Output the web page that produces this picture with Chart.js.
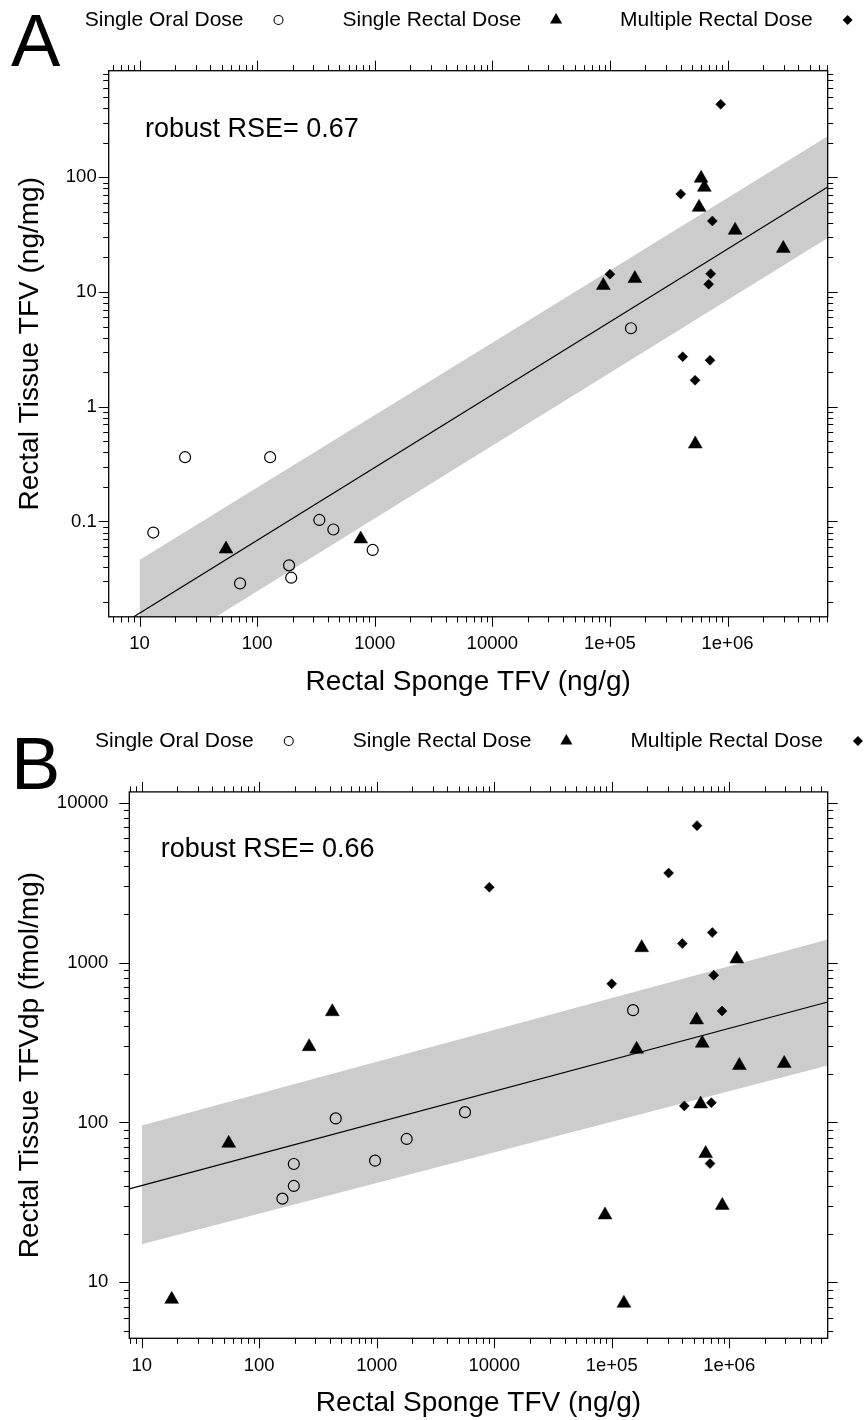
<!DOCTYPE html>
<html>
<head>
<meta charset="utf-8">
<script src="https://cdn.jsdelivr.net/npm/chart.js@4.4.0/dist/chart.umd.min.js"></script>
<style>
  body { margin: 0; background: #fff; }
  #wrap { position: relative; width: 864px; height: 1420px; background: #fff; }
  canvas { position: absolute; left: 0; }
</style>
</head>
<body>
<div id="wrap">
  <canvas id="chartA" width="864" height="710" style="top:0"></canvas>
  <canvas id="chartB" width="864" height="710" style="top:710px"></canvas>
</div>
<script>
// ---- Panel A: rectal tissue TFV (ng/mg) vs rectal sponge TFV (ng/g) ----
const oralSpongeA = [13.1, 24.4, 71.6, 129, 187, 195, 338, 445, 961, 151000];
const oralTissueA = [0.080, 0.363, 0.0288, 0.363, 0.0414, 0.0323, 0.103, 0.085, 0.0564, 4.83];

const rectalSpongeA = [54.4, 760, 87900, 163000, 596000, 635000, 573000, 1160000, 2980000, 532000];
const rectalTissueA = [0.0574, 0.0703, 11.4, 13.1, 98, 81.8, 54.7, 34.5, 24.0, 0.473];

const multiSpongeA = [875000, 400000, 743000, 100000, 719000, 692000, 416000, 710000, 530000];
const multiTissueA = [433, 71.5, 41.6, 14.3, 14.4, 11.7, 2.73, 2.54, 1.70];

// fitted line and band, read at the panel edges
const fitXA = [5.47, 7.11e6];
const fitYA = [0.0108, 82.2];
const bandXA = [10, 7.11e6];
const bandUpperA = [0.046, 228];
const bandLowerA = [0.0057, 29.6];

// ---- Panel B: rectal tissue TFVdp (fmol/mg) vs rectal sponge TFV (ng/g) ----
const oralSpongeB = [448, 5640, 1799, 968, 197, 197, 157.5, 152000];
const oralTissueB = [106, 116, 78.9, 57.7, 55, 40.1, 33.4, 504];

const rectalSpongeB = [55, 266, 419, 18, 180000, 1160000, 528000, 590000, 163000, 1220000, 2940000, 571000, 630000, 873000, 87700, 127000];
const rectalTissueB = [74.1, 298, 493, 7.83, 1239, 1053, 438, 313, 287, 227, 234, 130.6, 63.9, 30.3, 26.4, 7.4];

const multiSpongeB = [9080, 532000, 305000, 718000, 399000, 100000, 738000, 869000, 415000, 705000, 687000];
const multiTissueB = [2958, 7180, 3630, 1542, 1315, 736, 834, 498, 127, 133, 55.3];

const fitXB = [7.84, 6.89e6];
const fitYB = [38.4, 567];
const bandXB = [10, 6.89e6];
const bandUpperB = [95.7, 1393];
const bandLowerB = [17.3, 227.5];

// ---- axes ----
const xTickValues = [10, 100, 1000, 10000, 1e5, 1e6];
const xTickLabels = ['10', '100', '1000', '10000', '1e+05', '1e+06'];
const yTickValuesA = [0.1, 1, 10, 100];
const yTickLabelsA = ['0.1', '1', '10', '100'];
const yTickValuesB = [10, 100, 1000, 10000];
const yTickLabelsB = ['10', '100', '1000', '10000'];

const groupNames = ['Single Oral Dose', 'Single Rectal Dose', 'Multiple Rectal Dose'];
const groupStyles = ['circle', 'triangle', 'rectRot'];

const FONT = "'Liberation Sans', Arial, Helvetica, sans-serif";
Chart.defaults.font.family = FONT;
Chart.defaults.color = '#000';

function toPoints(xs, ys) {
    return xs.map((v, i) => ({ x: v, y: ys[i] }));
}

// all 1..9 x 10^k values inside [min, max]
function logTicks(min, max) {
    const out = [];
    for (let k = Math.floor(Math.log10(min)); k <= Math.ceil(Math.log10(max)); k++) {
        for (let m = 1; m <= 9; m++) {
            const v = m * Math.pow(10, k);
            if (v >= min && v <= max) out.push({ v: v, major: m === 1 });
        }
    }
    return out;
}

function drawMarker(ctx, style, cx, cy) {
    ctx.beginPath();
    if (style === 'circle') {
        ctx.arc(cx, cy, 4.5, 0, Math.PI * 2);
        ctx.lineWidth = 1.1;
        ctx.stroke();
    } else if (style === 'triangle') {
        const r = 7;
        ctx.moveTo(cx, cy - r);
        ctx.lineTo(cx + r * 0.866, cy + r / 2);
        ctx.lineTo(cx - r * 0.866, cy + r / 2);
        ctx.closePath();
        ctx.fill();
    } else {
        const r = 5;
        ctx.moveTo(cx - r, cy);
        ctx.lineTo(cx, cy - r);
        ctx.lineTo(cx + r, cy);
        ctx.lineTo(cx, cy + r);
        ctx.closePath();
        ctx.fill();
    }
}

// box, tick marks on all four sides, key, panel letter and RSE note
const panelDecor = {
    id: 'panelDecor',
    afterDatasetsDraw(chart, args, opts) {
        const { ctx, chartArea: a } = chart;
        const x = chart.scales.x;
        const y = chart.scales.y;
        ctx.save();
        ctx.strokeStyle = '#000';
        ctx.fillStyle = '#000';

        ctx.lineWidth = 1;
        ctx.beginPath();
        logTicks(x.min, x.max).forEach(t => {
            const px = Math.round(x.getPixelForValue(t.v)) + 0.5;
            const len = t.major ? 10 : 5.5;
            ctx.moveTo(px, a.bottom); ctx.lineTo(px, a.bottom + len);
            ctx.moveTo(px, a.top); ctx.lineTo(px, a.top - len);
        });
        logTicks(y.min, y.max).forEach(t => {
            const py = Math.round(y.getPixelForValue(t.v)) + 0.5;
            const len = t.major ? 10 : 5.5;
            ctx.moveTo(a.left, py); ctx.lineTo(a.left - len, py);
            ctx.moveTo(a.right, py); ctx.lineTo(a.right + len, py);
        });
        ctx.stroke();

        ctx.lineWidth = 1.3;
        ctx.strokeRect(a.left, a.top, a.right - a.left, a.bottom - a.top);

        // regression note
        ctx.font = '27px ' + FONT;
        ctx.textBaseline = 'alphabetic';
        ctx.textAlign = 'left';
        ctx.fillText(opts.note, a.left + opts.noteDx, a.top + opts.noteDy);

        // panel letter
        ctx.font = '74px ' + FONT;
        ctx.fillText(opts.letter, 11, opts.letterBaseline);

        // key: text followed by its symbol, centred over the panel
        ctx.font = '21px ' + FONT;
        ctx.textBaseline = 'middle';
        const gapToMarker = 35, gapToNext = 64;
        const widths = groupNames.map(n => ctx.measureText(n).width);
        const total = widths.reduce((s, w) => s + w, 0) + 3 * gapToMarker + 2 * gapToNext + 4;
        let cursor = (a.left + a.right) / 2 - total / 2;
        groupNames.forEach((name, i) => {
            ctx.fillText(name, cursor, opts.keyY);
            cursor += widths[i] + gapToMarker;
            drawMarker(ctx, groupStyles[i], cursor, opts.keyY);
            cursor += gapToNext;
        });
        ctx.restore();
    }
};

// higher "order" is drawn first, so the grey band sits under the line and symbols
function buildDatasets(g) {
    return [
        { label: groupNames[0], order: 0, data: toPoints(g.oralX, g.oralY), showLine: false, pointStyle: 'circle',
          pointRadius: 5.5, pointBorderWidth: 1.2, pointBorderColor: '#000', pointBackgroundColor: 'rgba(0,0,0,0)' },
        { label: groupNames[1], order: 0, data: toPoints(g.rectalX, g.rectalY), showLine: false, pointStyle: 'triangle',
          pointRadius: 8, pointBorderWidth: 0.5, pointBorderColor: '#000', pointBackgroundColor: '#000' },
        { label: groupNames[2], order: 0, data: toPoints(g.multiX, g.multiY), showLine: false, pointStyle: 'rectRot',
          pointRadius: 5, pointBorderWidth: 0.5, pointBorderColor: '#000', pointBackgroundColor: '#000' },
        { label: 'fit', order: 1, data: toPoints(g.fitX, g.fitY), borderColor: '#000', borderWidth: 1.2,
          pointRadius: 0, fill: false },
        { label: 'band upper', order: 2, data: toPoints(g.bandX, g.bandUpper), borderWidth: 0, borderColor: 'rgba(0,0,0,0)',
          pointRadius: 0, fill: '+1', backgroundColor: '#cccccc' },
        { label: 'band lower', order: 2, data: toPoints(g.bandX, g.bandLower), borderWidth: 0, borderColor: 'rgba(0,0,0,0)',
          pointRadius: 0, fill: false }
    ];
}

function createPanel(canvasId, g) {
    const ctx = document.getElementById(canvasId).getContext('2d');
    return new Chart(ctx, {
        type: 'line',
        data: { datasets: buildDatasets(g) },
        options: {
            responsive: false,
            animation: false,
            events: [],
            layout: { padding: g.padding },
            plugins: {
                legend: { display: false },
                tooltip: { enabled: false },
                filler: { drawTime: 'beforeDatasetsDraw' },
                panelDecor: g.decor
            },
            scales: {
                x: {
                    type: 'logarithmic',
                    position: 'bottom',
                    min: g.xRange[0],
                    max: g.xRange[1],
                    grid: { display: false, drawTicks: false },
                    border: { display: false },
                    afterBuildTicks: s => { s.ticks = xTickValues.map(v => ({ value: v })); },
                    afterFit: s => { s.height = g.xAxisHeight; },
                    ticks: {
                        autoSkip: false, maxRotation: 0, padding: 16.5,
                        font: { size: 18.5 },
                        callback: v => xTickLabels[xTickValues.indexOf(v)] || ''
                    },
                    title: { display: true, text: 'Rectal Sponge TFV (ng/g)', font: { size: 28 },
                             padding: { top: 0, bottom: g.xTitlePad } }
                },
                y: {
                    type: 'logarithmic',
                    position: 'left',
                    min: g.yRange[0],
                    max: g.yRange[1],
                    grid: { display: false, drawTicks: false },
                    border: { display: false },
                    afterBuildTicks: s => { s.ticks = g.yTickValues.map(v => ({ value: v })); },
                    afterFit: s => { s.width = g.yAxisWidth; },
                    ticks: {
                        autoSkip: false, padding: g.yLabelPad,
                        font: { size: 18.5 },
                        callback: v => g.yTickLabels[g.yTickValues.indexOf(v)] || ''
                    },
                    title: { display: true, text: g.yTitle, font: { size: 28 },
                             padding: { top: 13.7, bottom: 0 } }
                }
            }
        },
        plugins: [panelDecor]
    });
}

createPanel('chartA', {
    oralX: oralSpongeA, oralY: oralTissueA,
    rectalX: rectalSpongeA, rectalY: rectalTissueA,
    multiX: multiSpongeA, multiY: multiTissueA,
    fitX: fitXA, fitY: fitYA,
    bandX: bandXA, bandUpper: bandUpperA, bandLower: bandLowerA,
    xRange: [5.47, 7.11e6],
    yRange: [0.01474, 850],
    yTickValues: yTickValuesA, yTickLabels: yTickLabelsA,
    yTitle: 'Rectal Tissue TFV (ng/mg)',
    padding: { top: 70.7, right: 36.3, bottom: 0, left: 0 },
    xAxisHeight: 93.2, yAxisWidth: 108.7, yLabelPad: 12, xTitlePad: 11,
    decor: { letter: 'A', letterBaseline: 65.7, keyY: 20, note: 'robust RSE= 0.67', noteDx: 36.3, noteDy: 66.5 }
});

createPanel('chartB', {
    oralX: oralSpongeB, oralY: oralTissueB,
    rectalX: rectalSpongeB, rectalY: rectalTissueB,
    multiX: multiSpongeB, multiY: multiTissueB,
    fitX: fitXB, fitY: fitYB,
    bandX: bandXB, bandUpper: bandUpperB, bandLower: bandLowerB,
    xRange: [7.84, 6.89e6],
    yRange: [4.47, 11680],
    yTickValues: yTickValuesB, yTickLabels: yTickLabelsB,
    yTitle: 'Rectal Tissue TFVdp (fmol/mg)',
    padding: { top: 81.9, right: 36.3, bottom: 0, left: 0 },
    xAxisHeight: 81.7, yAxisWidth: 129.3, yLabelPad: 21, xTitlePad: 0.2,
    decor: { letter: 'B', letterBaseline: 79.3, keyY: 31, note: 'robust RSE= 0.66', noteDx: 31.4, noteDy: 65 }
});
</script>
</body>
</html>
